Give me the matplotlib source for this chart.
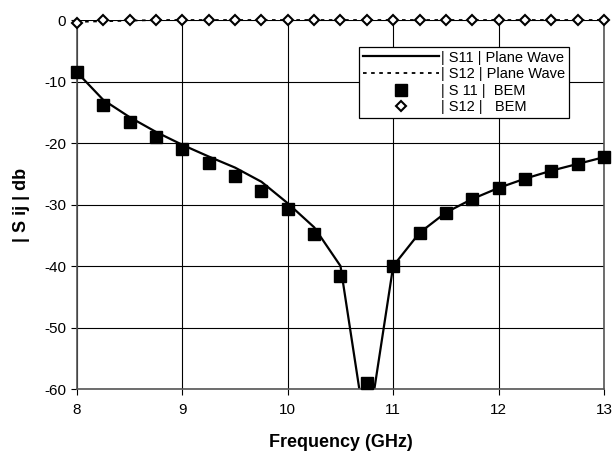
import numpy as np
import matplotlib
matplotlib.use("Agg")
import matplotlib.pyplot as plt

plt.rcParams["font.family"] = ["Liberation Sans", "DejaVu Sans"]
plt.rcParams["axes.unicode_minus"] = False

freq = [8.0, 8.25, 8.5, 8.75, 9.0, 9.25, 9.5, 9.75, 10.0, 10.25, 10.5,
        10.75, 11.0, 11.25, 11.5, 11.75, 12.0, 12.25, 12.5, 12.75, 13.0]

# |S11| plane wave (line)
s11_pw = [-8.5, -13.0, -15.8, -18.2, -20.3, -22.2, -24.0, -26.3, -29.8, -33.7, -40.0,
          -68.0, -40.0, -34.6, -31.3, -29.1, -27.3, -25.8, -24.5, -23.4, -22.3]
# |S12| plane wave (dotted line)
s12_pw = [-0.3, -0.2, -0.1, 0.0, 0.0, 0.0, 0.0, 0.0, 0.0, 0.0, 0.0,
          0.0, 0.0, 0.0, 0.0, 0.0, 0.0, 0.0, 0.0, 0.0, 0.0]
# |S11| BEM (squares)
s11_bem = [-8.5, -13.8, -16.6, -19.0, -21.0, -23.2, -25.3, -27.8, -30.8, -34.8, -41.7,
           -59.0, -40.0, -34.6, -31.3, -29.1, -27.3, -25.8, -24.5, -23.4, -22.3]
# |S12| BEM (diamonds)
s12_bem = [-0.5, 0.0, 0.0, 0.0, 0.0, 0.0, 0.0, 0.0, 0.0, 0.0, 0.0,
           0.0, 0.0, 0.0, 0.0, 0.0, 0.0, 0.0, 0.0, 0.0, 0.0]

fig = plt.figure(figsize=(6.13, 4.55), dpi=100)
ax = fig.add_axes([0.1256, 0.145, 0.8597, 0.811])

ax.plot(freq, s11_pw, color="black", linewidth=1.6, label="| S11 | Plane Wave")
ax.plot(freq, s12_pw, color="black", linewidth=1.3, linestyle=(0, (2, 2.5)),
        label="| S12 | Plane Wave", clip_on=False)
ax.plot(freq, s11_bem, linestyle="none", marker="s", markersize=9,
        color="black", label="| S 11 |  BEM", clip_on=False, zorder=4)
ax.plot(freq, s12_bem, linestyle="none", marker="D", markersize=5,
        markerfacecolor="white", markeredgecolor="black", markeredgewidth=1.5,
        label="| S12 |   BEM", clip_on=False, zorder=4)

ax.set_xlim(8, 13)
ax.set_ylim(-60, 0)
ax.set_xticks(np.arange(8, 14, 1))
ax.set_yticks(np.arange(-60, 1, 10))
ax.grid(True, color="black", linewidth=0.8)

for side in ["left", "right", "bottom"]:
    ax.spines[side].set_linestyle((0, (1, 1)))
    ax.spines[side].set_color("#555555")
    ax.spines[side].set_linewidth(1.2)
ax.spines["top"].set_visible(False)

ax.tick_params(axis="both", direction="out", length=4, color="black",
               labelsize=11, pad=6)
ax.tick_params(axis="y", pad=4)

ax.set_xlabel("Frequency (GHz)", fontsize=13, fontweight="bold", labelpad=12)
ax.set_ylabel("| S ij | db", fontsize=13, fontweight="bold", labelpad=10)

leg = ax.legend(loc="upper right", bbox_to_anchor=(0.934, 0.927), fontsize=10.5,
                frameon=True, fancybox=False, edgecolor="black", framealpha=1,
                handlelength=5.2, borderpad=0.25, labelspacing=0.18,
                handletextpad=0.2, borderaxespad=0)
leg.get_frame().set_linewidth(0.9)

fig.savefig("out.png", dpi=100)
